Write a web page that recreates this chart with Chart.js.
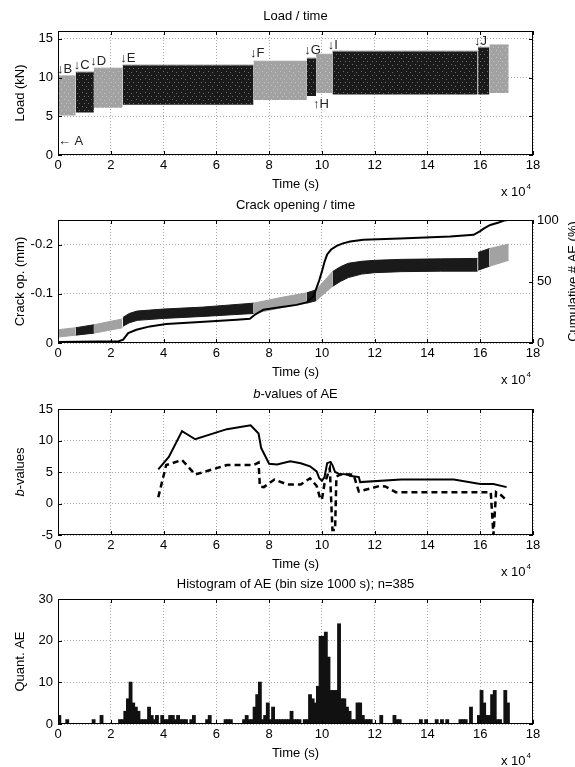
<!DOCTYPE html>
<html>
<head>
<meta charset="utf-8">
<title>Load, crack opening and AE</title>
<script src="https://cdn.jsdelivr.net/npm/chart.js@4.4.0/dist/chart.umd.min.js"></script>
<style>
    html, body { margin: 0; padding: 0; background: #fff; }
    #wrap { position: relative; width: 575px; height: 767px; overflow: hidden; }
    .panel { position: absolute; left: 0; }
</style>
</head>
<body>
<div id="wrap">
    <canvas class="panel" id="loadChart" width="575" height="200" style="top:0"></canvas>
    <canvas class="panel" id="crackChart" width="575" height="200" style="top:190px"></canvas>
    <canvas class="panel" id="bChart" width="575" height="200" style="top:380px"></canvas>
    <canvas class="panel" id="histChart" width="575" height="197" style="top:570px"></canvas>
</div>
<script>
// Data (time in units of 10^4 s)

const timeTicks = [0, 2, 4, 6, 8, 10, 12, 14, 16, 18];

// Load / time - one block per load stage
const stageStart = [0, 0.67, 1.36, 2.45, 7.41, 9.43, 9.78, 10.40, 15.92, 16.35];
const stageEnd   = [0.67, 1.36, 2.45, 7.41, 9.43, 9.78, 10.40, 15.90, 16.35, 17.08];
const loadMax    = [10.2, 10.7, 11.2, 11.6, 12.1, 12.5, 13.0, 13.4, 13.9, 14.2];
const loadMin    = [5.1, 5.5, 6.1, 6.5, 7.1, 7.6, 8.0, 7.8, 7.8, 8.0];
const darkStage  = [false, true, false, true, false, true, false, true, true, false];
const loadTicks  = [0, 5, 10, 15];

const stageLabels = ['\u2190 A', '\u2193B', '\u2193C', '\u2193D', '\u2193E', '\u2193F', '\u2193G', '\u2191H', '\u2193I', '\u2193J'];
const stageLabelX = [0.0, -0.04, 0.6, 1.22, 2.36, 7.28, 9.33, 9.66, 10.22, 15.76];
const stageLabelY = [1.75, 11.1, 11.5, 12.05, 12.5, 13.1, 13.5, 6.5, 14.1, 14.65];

// Crack opening / time - band of min/max opening (mm)
const crackT  = [0, 0.67, 1.36, 2.44, 2.46, 2.7, 3.0, 4.0, 5.5, 7.41, 8.5, 9.43, 9.78, 10.40, 10.7, 11.0, 11.5, 12.0, 13.0, 14.5, 15.90, 15.92, 16.35, 17.08];
const crackHi = [-0.027, -0.031, -0.037, -0.049, -0.052, -0.060, -0.065, -0.069, -0.073, -0.081, -0.093, -0.102, -0.108, -0.145, -0.155, -0.162, -0.166, -0.168, -0.170, -0.171, -0.172, -0.184, -0.192, -0.201];
const crackLo = [-0.012, -0.016, -0.020, -0.031, -0.034, -0.041, -0.046, -0.050, -0.054, -0.060, -0.072, -0.081, -0.086, -0.115, -0.125, -0.133, -0.140, -0.143, -0.145, -0.146, -0.146, -0.148, -0.156, -0.168];
const crackTicks = [0, -0.1, -0.2];

// Cumulative number of AE (%)
const cumT   = [0, 2.3, 2.47, 2.66, 2.97, 3.48, 4.1, 5.38, 6.77, 7.27, 7.46, 7.78, 8.41, 9.04, 9.42, 9.68, 9.8, 9.9, 10.0, 10.1, 10.2, 10.35, 10.56, 10.8, 11.07, 11.57, 12.96, 14.86, 15.75, 16.0, 16.13, 16.38, 16.7, 16.9, 17.05];
const cumPct = [0.8, 1.4, 2.7, 8, 10.8, 13.5, 15.4, 17, 19, 19.7, 23, 27, 29, 31, 33, 38, 45, 51, 58, 66, 72, 76, 79, 81, 82.5, 84, 85, 86.5, 88, 91, 93, 96, 98, 99.5, 100];
const cumTicks = [0, 50, 100];

// b-values of AE
const bSolidT = [3.8, 4.2, 4.7, 5.2, 6.4, 7.3, 7.6, 7.7, 8.0, 8.3, 8.8, 9.2, 9.55, 9.8, 9.9, 10.0, 10.1, 10.2, 10.33, 10.4, 10.5, 10.65, 11.0, 11.05, 11.4, 11.45, 13.0, 15.0, 16.0, 16.5, 17.0];
const bSolid  = [5.4, 7.4, 11.5, 10.2, 11.8, 12.4, 11.1, 8.8, 6.3, 6.2, 6.7, 6.4, 5.9, 5.1, 4.0, 3.6, 4.2, 6.4, 6.6, 6.1, 5.0, 4.7, 4.6, 4.4, 4.2, 3.4, 3.8, 3.8, 3.1, 3.1, 2.6];
const bDashT  = [3.8, 4.1, 4.7, 5.2, 6.4, 7.4, 7.6, 7.65, 7.8, 8.2, 8.7, 9.2, 9.55, 9.8, 9.93, 10.0, 10.1, 10.2, 10.3, 10.4, 10.5, 10.55, 10.7, 11.2, 11.4, 12.2, 12.4, 12.8, 15.5, 16.4, 16.5, 16.6, 16.8, 17.0];
const bDash   = [1.0, 6.1, 6.9, 4.6, 6.1, 6.1, 6.5, 2.7, 2.6, 3.8, 3.0, 3.0, 4.0, 2.8, 0.9, 0.6, 3.2, 4.3, 5.6, -4.2, -4.2, 4.3, 4.6, 4.6, 1.9, 2.8, 2.7, 1.8, 1.8, 1.8, -5.0, 1.8, 1.3, 0.5];
const bTicks  = [-5, 0, 5, 10, 15];

// Histogram of AE, bins of 1000 s (0.1 x 10^4 s) starting at t = 0
const aeCounts = [
    2, 0, 0, 1, 0, 0, 0, 0, 0, 0,
    0, 0, 0, 1, 0, 0, 2, 0, 0, 0,
    0, 0, 0, 1, 1, 3, 6, 10, 5, 4,
    3, 1, 1, 1, 4, 2, 1, 2, 0, 2,
    1, 1, 2, 2, 1, 2, 1, 1, 1, 0,
    1, 2, 0, 0, 0, 0, 1, 2, 0, 0,
    0, 0, 0, 1, 1, 1, 0, 0, 0, 0,
    1, 2, 1, 1, 4, 7, 10, 1, 2, 5,
    1, 4, 1, 1, 1, 1, 1, 1, 3, 1,
    1, 1, 0, 1, 1, 7, 6, 5, 9, 21,
    21, 22, 16, 8, 8, 8, 24, 6, 6, 4,
    3, 1, 1, 5, 5, 2, 1, 1, 1, 0,
    0, 0, 2, 0, 0, 0, 0, 2, 1, 1,
    0, 0, 0, 0, 0, 0, 0, 1, 0, 1,
    0, 0, 0, 1, 0, 1, 0, 1, 0, 0,
    0, 0, 1, 1, 1, 0, 4, 0, 0, 2,
    8, 5, 2, 2, 7, 8, 1, 1, 0, 8,
    5, 0
];
const binSize = 0.1;
const histTicks = [0, 10, 20, 30];

// Look

const FONT = '"Liberation Sans", Arial, "DejaVu Sans", sans-serif';
const FS = 13;
const DARK = '#1a1a1a';
const LIGHT = '#a2a2a2';
const GRID = '#a8a8a8';
const PLOT_LEFT = 58;
const PLOT_RIGHT = 533;

// speckled fill like the dense cycle markers of the original
function speckle(base, dot) {
    const c = document.createElement('canvas');
    c.width = 9;
    c.height = 7;
    const g = c.getContext('2d');
    g.fillStyle = base;
    g.fillRect(0, 0, 9, 7);
    g.fillStyle = dot;
    g.fillRect(1, 1, 1, 1);
    g.fillRect(5, 2, 1, 1);
    g.fillRect(3, 5, 1, 1);
    g.fillRect(7, 5, 1, 1);
    return g.createPattern(c, 'repeat');
}
const DARK_FILL = speckle(DARK, '#6a6a6a');
const LIGHT_FILL = speckle(LIGHT, '#c4c4c4');

function drawRich(ctx, parts, cx, cy, angle) {
    ctx.save();
    ctx.translate(cx, cy);
    ctx.rotate(angle);
    ctx.textBaseline = 'middle';
    ctx.textAlign = 'left';
    let total = 0;
    parts.forEach(p => {
        ctx.font = `${p.i ? 'italic ' : ''}${FS}px ${FONT}`;
        total += ctx.measureText(p.t).width;
    });
    let x = -total / 2;
    parts.forEach(p => {
        ctx.font = `${p.i ? 'italic ' : ''}${FS}px ${FONT}`;
        ctx.fillText(p.t, x, 0);
        x += ctx.measureText(p.t).width;
    });
    ctx.restore();
}

// box, inward ticks and the panel texts
const framePlugin = {
    id: 'frame',
    afterDraw(chart, args, opts) {
        const { ctx, chartArea: a } = chart;
        const line = (x1, y1, x2, y2) => {
            ctx.beginPath(); ctx.moveTo(x1, y1); ctx.lineTo(x2, y2); ctx.stroke();
        };
        ctx.save();
        ctx.strokeStyle = '#000';
        ctx.lineWidth = 1;
        ctx.strokeRect(a.left + 0.5, a.top + 0.5, a.right - a.left - 1, a.bottom - a.top - 1);

        const xs = chart.scales.x;
        xs.ticks.forEach(t => {
            const px = Math.round(xs.getPixelForValue(t.value)) + 0.5;
            line(px, a.bottom, px, a.bottom - 4);
            line(px, a.top, px, a.top + 4);
        });
        const ys = chart.scales.y;
        ys.ticks.forEach(t => {
            const py = Math.round(ys.getPixelForValue(t.value)) + 0.5;
            line(a.left, py, a.left + 4, py);
            if (!chart.scales.y1) line(a.right, py, a.right - 4, py);
        });
        if (chart.scales.y1) {
            const y1 = chart.scales.y1;
            y1.ticks.forEach(t => {
                const py = Math.round(y1.getPixelForValue(t.value)) + 0.5;
                line(a.right, py, a.right - 4, py);
            });
        }

        ctx.fillStyle = '#000';
        const mid = (a.top + a.bottom) / 2;
        drawRich(ctx, opts.title, (a.left + a.right) / 2, a.top - 15, 0);
        drawRich(ctx, [{ t: 'Time (s)' }], (a.left + a.right) / 2, a.bottom + 29, 0);
        drawRich(ctx, opts.yLabel, 20, mid, -Math.PI / 2);
        if (opts.yLabelRight) drawRich(ctx, opts.yLabelRight, 573, mid, -Math.PI / 2);

        // x 10^4 multiplier
        ctx.textAlign = 'left';
        ctx.textBaseline = 'middle';
        ctx.font = `${FS}px ${FONT}`;
        const mx = a.right - 32;
        const my = a.bottom + 37;
        ctx.fillText('x 10', mx, my);
        const w = ctx.measureText('x 10').width;
        ctx.font = `8px ${FONT}`;
        ctx.fillText('4', mx + w + 1, my - 5);
        ctx.restore();
    }
};

// letters marking the load stages
const stageLabelPlugin = {
    id: 'stageLabels',
    afterDraw(chart) {
        const { ctx, scales: { x, y } } = chart;
        ctx.save();
        ctx.fillStyle = '#222';
        ctx.font = `${FS}px ${FONT}`;
        ctx.textAlign = 'left';
        ctx.textBaseline = 'middle';
        stageLabels.forEach((txt, i) => {
            ctx.fillText(txt, x.getPixelForValue(stageLabelX[i]), y.getPixelForValue(stageLabelY[i]));
        });
        ctx.restore();
    }
};

function timeAxis(axisHeight) {
    return {
        type: 'linear',
        min: 0,
        max: 18,
        offset: false,
        afterBuildTicks: s => { s.ticks = timeTicks.map(v => ({ value: v })); },
        afterFit: s => { s.height = axisHeight; },
        ticks: { font: { family: FONT, size: FS }, color: '#000', padding: 3, maxRotation: 0, autoSkip: false },
        grid: { color: GRID, drawTicks: false, offset: false },
        border: { display: false, dash: [1, 2] }
    };
}

function valueAxis(tickValues, min, max, extra) {
    return Object.assign({
        type: 'linear',
        min: min,
        max: max,
        afterBuildTicks: s => { s.ticks = tickValues.map(v => ({ value: v })); },
        afterFit: s => { s.width = PLOT_LEFT; },
        ticks: { font: { family: FONT, size: FS }, color: '#000', padding: 5, callback: v => String(v) },
        grid: { color: GRID, drawTicks: false },
        border: { display: false, dash: [1, 2] }
    }, extra || {});
}

function baseOptions(top, rightPad, frame) {
    return {
        responsive: false,
        animation: false,
        layout: { padding: { top: top, right: rightPad, left: 0, bottom: 0 } },
        plugins: { legend: { display: false }, tooltip: { enabled: false }, frame: frame },
        elements: { point: { radius: 0 }, line: { tension: 0 } }
    };
}

// Panel 1: load / time
const loadSets = stageStart.map((s, i) => ({
    data: [{ x: s, y: loadMax[i] }, { x: stageEnd[i], y: loadMax[i] }],
    fill: { value: loadMin[i] },
    backgroundColor: darkStage[i] ? DARK_FILL : LIGHT_FILL,
    borderColor: darkStage[i] ? '#8a8a8a' : LIGHT,
    borderWidth: 1
}));

const loadOpts = baseOptions(31, 575 - PLOT_RIGHT, {
    title: [{ t: 'Load / time' }],
    yLabel: [{ t: 'Load (kN)' }]
});
loadOpts.scales = { x: timeAxis(45), y: valueAxis(loadTicks, 0, 16) };

new Chart(document.getElementById('loadChart'), {
    type: 'line',
    data: { datasets: loadSets },
    options: loadOpts,
    plugins: [framePlugin, stageLabelPlugin]
});

// Panel 2: crack opening / time
const crackSets = [{
    data: cumT.map((t, i) => ({ x: t, y: cumPct[i] })),
    yAxisID: 'y1',
    borderColor: '#000',
    borderWidth: 2,
    fill: false
}];
stageStart.forEach((s, i) => {
    const idx = crackT.map((t, k) => k).filter(k => crackT[k] >= s && crackT[k] <= stageEnd[i]);
    const colour = darkStage[i] ? DARK : LIGHT;
    crackSets.push({
        data: idx.map(k => ({ x: crackT[k], y: crackHi[k] })),
        yAxisID: 'y',
        borderColor: colour,
        borderWidth: 1,
        backgroundColor: colour,
        fill: '+1'
    });
    crackSets.push({
        data: idx.map(k => ({ x: crackT[k], y: crackLo[k] })),
        yAxisID: 'y',
        borderColor: colour,
        borderWidth: 1,
        fill: false
    });
});

const crackOpts = baseOptions(30, 0, {
    title: [{ t: 'Crack opening / time' }],
    yLabel: [{ t: 'Crack op. (mm)' }],
    yLabelRight: [{ t: 'Cumulative # AE (%)' }]
});
crackOpts.scales = {
    x: timeAxis(47),
    y: valueAxis(crackTicks, -0.25, 0, { reverse: true }),
    y1: {
        type: 'linear',
        position: 'right',
        min: 0,
        max: 100,
        afterBuildTicks: s => { s.ticks = cumTicks.map(v => ({ value: v })); },
        afterFit: s => { s.width = 575 - PLOT_RIGHT; },
        ticks: { font: { family: FONT, size: FS }, color: '#000', padding: 4 },
        grid: { display: false, drawTicks: false },
        border: { display: false }
    }
};

new Chart(document.getElementById('crackChart'), {
    type: 'line',
    data: { datasets: crackSets },
    options: crackOpts,
    plugins: [framePlugin]
});

// Panel 3: b-values
const bOpts = baseOptions(29, 575 - PLOT_RIGHT, {
    title: [{ t: 'b', i: true }, { t: '-values of AE' }],
    yLabel: [{ t: 'b', i: true }, { t: '-values' }]
});
bOpts.scales = { x: timeAxis(45), y: valueAxis(bTicks, -5, 15) };

new Chart(document.getElementById('bChart'), {
    type: 'line',
    data: {
        datasets: [
            {
                data: bSolidT.map((t, i) => ({ x: t, y: bSolid[i] })),
                borderColor: '#000',
                borderWidth: 2,
                fill: false
            },
            {
                data: bDashT.map((t, i) => ({ x: t, y: bDash[i] })),
                borderColor: '#000',
                borderWidth: 2.5,
                borderDash: [6, 4],
                fill: false
            }
        ]
    },
    options: bOpts,
    plugins: [framePlugin]
});

// Panel 4: histogram of AE
const histOpts = baseOptions(29, 575 - PLOT_RIGHT, {
    title: [{ t: 'Histogram of AE (bin size 1000 s); n=385' }],
    yLabel: [{ t: 'Quant. AE' }]
});
histOpts.scales = { x: timeAxis(43), y: valueAxis(histTicks, 0, 30) };

new Chart(document.getElementById('histChart'), {
    type: 'bar',
    data: {
        datasets: [{
            data: aeCounts.map((c, i) => ({ x: (i + 0.5) * binSize, y: c })),
            backgroundColor: '#111',
            borderWidth: 0,
            inflateAmount: 0.6,
            barPercentage: 1,
            categoryPercentage: 1
        }]
    },
    options: histOpts,
    plugins: [framePlugin]
});
</script>
</body>
</html>
